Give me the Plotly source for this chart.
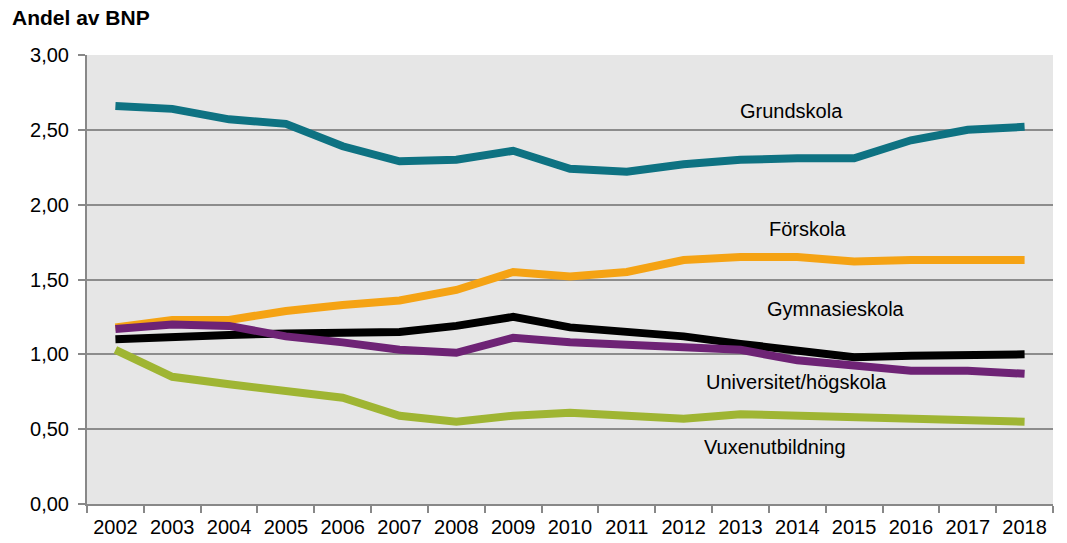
import plotly.graph_objects as go

years = [str(y) for y in range(2002, 2019)]
grundskola = [2.66, 2.64, 2.57, 2.54, 2.39, 2.29, 2.30, 2.36, 2.24, 2.22, 2.27, 2.30, 2.31, 2.31, 2.43, 2.50, 2.52]
forskola = [1.18, 1.23, 1.23, 1.29, 1.33, 1.36, 1.43, 1.55, 1.52, 1.55, 1.63, 1.65, 1.65, 1.62, 1.63, 1.63, 1.63]
gymnasieskola = [1.10, 1.12, 1.13, 1.14, 1.15, 1.15, 1.19, 1.25, 1.18, 1.15, 1.12, 1.07, 1.03, 0.98, 0.99, 0.99, 1.00]
universitet = [1.17, 1.20, 1.19, 1.12, 1.08, 1.03, 1.01, 1.11, 1.08, 1.06, 1.05, 1.03, 0.96, 0.92, 0.89, 0.89, 0.87]
vuxen = [1.03, 0.85, 0.80, 0.75, 0.71, 0.59, 0.55, 0.59, 0.61, 0.59, 0.57, 0.60, 0.59, 0.58, 0.57, 0.56, 0.55]
y_ticks = [0, 0.5, 1.0, 1.5, 2.0, 2.5, 3.0]
y_tick_labels = ["0,00", "0,50", "1,00", "1,50", "2,00", "2,50", "3,00"]

series = [
    ("Grundskola", grundskola, "#0E7282"),
    ("Förskola", forskola, "#F5A314"),
    ("Gymnasieskola", gymnasieskola, "#000000"),
    ("Universitet/högskola", universitet, "#6E2375"),
    ("Vuxenutbildning", vuxen, "#9FB533"),
]

# label positions (category index, y value)
labels = [
    ("Grundskola", 11.89, 2.627),
    ("Förskola", 12.19, 1.84),
    ("Gymnasieskola", 12.68, 1.30),
    ("Universitet/högskola", 11.99, 0.813),
    ("Vuxenutbildning", 11.61, 0.38),
]

FONT = "Liberation Sans, Arial, sans-serif"

fig = go.Figure()
for name, vals, color in series:
    fig.add_trace(go.Scatter(x=years, y=vals, mode="lines", name=name,
                             line=dict(color=color, width=8)))

for text, xi, yv in labels:
    fig.add_annotation(x=xi, y=yv, xref="x", yref="y", text=text, showarrow=False,
                       font=dict(size=20, color="#000000", family=FONT))

fig.add_annotation(x=-77/966, y=1 + 37/449, xref="paper", yref="paper",
                   xanchor="left", yanchor="middle",
                   text="<b>Andel av BNP</b>", showarrow=False,
                   font=dict(size=21, color="#000000", family=FONT))

fig.update_layout(
    width=1067, height=543,
    margin=dict(l=87, r=14, t=55, b=39, autoexpand=False),
    paper_bgcolor="white",
    plot_bgcolor="#E6E6E6",
    showlegend=False,
    font=dict(family=FONT, size=20, color="#000000"),
    xaxis=dict(type="category", range=[-0.5, 16.5], tickson="boundaries",
               ticks="outside", ticklen=7, tickcolor="#888888", tickwidth=2,
               showline=True, linecolor="#888888", linewidth=2, automargin=False,
               showgrid=False, tickfont=dict(size=20), ticklabelstandoff=4),
    yaxis=dict(range=[0, 3], tickvals=y_ticks, ticktext=y_tick_labels,
               ticks="outside", ticklen=7, tickcolor="#888888", tickwidth=2,
               showline=True, linecolor="#888888", linewidth=2, automargin=False,
               showgrid=True, gridcolor="#8C8C8C", gridwidth=1.5,
               zeroline=False, tickfont=dict(size=20), ticklabelstandoff=5),
)

fig.write_html("out.html", config={"displayModeBar": False},
               post_script="document.body.style.margin='0';document.body.style.overflow='hidden';")
